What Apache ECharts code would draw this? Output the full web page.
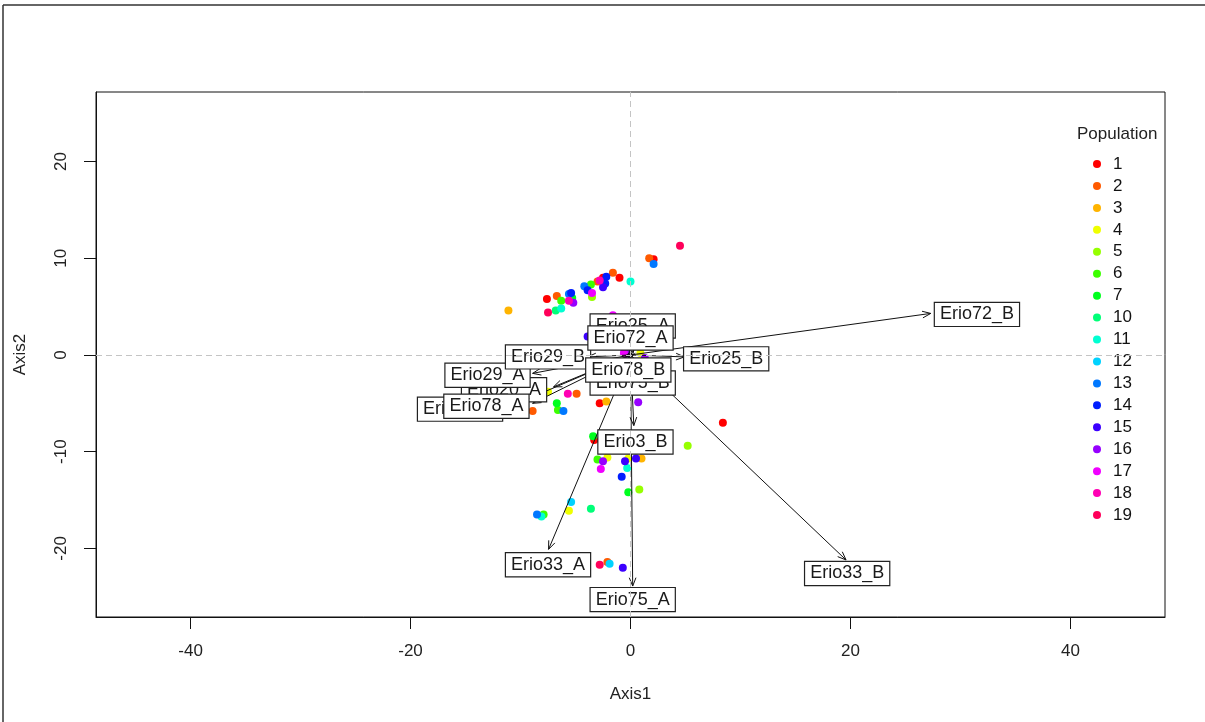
<!DOCTYPE html>
<html>
<head>
<meta charset="utf-8">
<script src="https://cdn.jsdelivr.net/npm/echarts@6/dist/echarts.min.js"></script>
<style>
  html, body { margin: 0; padding: 0; background: #fff; }
  #chart { width: 1205px; height: 722px; }
</style>
</head>
<body>
<div id="chart"></div>
<script>
// Individuals on the first two axes, coloured by population
const populations = ['1','2','3','4','5','6','7','10','11','12','13','14','15','16','17','18','19'];
const popColors = ['#FF0000','#FF5A00','#FFB400','#EFFF00','#96FF00','#3CFF00','#00FF1E','#00FF78',
                   '#00FFD2','#00D2FF','#0078FF','#001EFF','#3C00FF','#9600FF','#F000FF','#FF00B4','#FF005A'];

const pop1  = [[2.1, 9.9], [-1.0, 8.0], [-2.5, 8.0], [-7.6, 5.8], [-2.8, -5.0], [8.4, -7.0], [-3.3, -8.8], [-1.2, -1.0]];
const pop2  = [[1.7, 10.0], [-1.6, 8.5], [-6.7, 6.1], [-4.9, -4.0], [-8.9, -5.8], [-2.1, -21.4], [-3.0, 7.6]];
const pop3  = [[-11.1, 4.6], [-2.2, -4.8], [1.0, -10.7], [-0.8, -3.5]];
const pop4  = [[-7.5, -3.8], [-2.1, -10.6], [-0.2, -10.7], [-5.6, -16.1], [0.9, 0.2]];
const pop5  = [[5.2, -9.4], [0.8, -13.9], [-3.5, 6.0]];
const pop6  = [[-6.6, -5.7], [-3.0, -10.8], [-7.9, -16.5], [-3.6, 7.3], [-6.3, 5.6]];
const pop7  = [[-6.7, -5.0], [-3.4, -8.4], [-0.2, -14.2], [-5.3, 5.9]];
const pop10 = [[-6.8, 4.6], [-3.6, -15.9], [-1.5, -2.5]];
const pop11 = [[0.0, 7.6], [-6.3, 4.8], [-8.1, -16.7], [-0.3, -11.7]];
const pop12 = [[-5.4, -15.2], [-1.9, -21.6], [0.5, -2.0]];
const pop13 = [[2.1, 9.4], [-4.2, 7.1], [-5.6, 6.3], [-6.1, -5.8], [-8.5, -16.5]];
const pop14 = [[-2.2, 8.1], [-2.3, 7.4], [-5.4, 6.4], [-3.9, 6.7], [-0.8, -12.6]];
const pop15 = [[-2.5, 7.0], [-0.5, -11.0], [0.5, -10.7], [-0.7, -22.0], [-3.9, 1.9]];
const pop16 = [[-5.2, 5.4], [0.7, -4.9], [-2.5, -11.0], [1.3, -0.3], [-0.3, 0.1]];
const pop17 = [[-1.6, 4.1], [-2.7, -11.8], [-0.6, 0.2], [-3.5, 6.4]];
const pop18 = [[-2.8, 7.7], [-5.6, 5.6], [-5.7, -4.0]];
const pop19 = [[4.5, 11.3], [-7.5, 4.4], [-2.8, -21.7]];
const popData = [pop1, pop2, pop3, pop4, pop5, pop6, pop7, pop10, pop11, pop12, pop13, pop14, pop15, pop16, pop17, pop18, pop19];

// Variable loadings (arrow tips) and where their labels sit
const varNames = ['Erio3_B','Erio20_A','Erio20_B','Erio25_A','Erio25_B','Erio29_A','Erio29_B','Erio33_A',
                  'Erio33_B','Erio72_A','Erio72_B','Erio75_A','Erio75_B','Erio78_A','Erio78_B'];
const varTips = [[0.3, -7.3], [-7.0, -3.3], [-11.5, -5.6], [0.2, 1.9], [4.9, -0.2], [-8.9, -1.9], [-3.9, -0.2], [-7.45, -20.1],
                 [19.6, -21.2], [0.3, 0.5], [27.3, 4.3], [0.2, -23.9], [0.2, -1.6], [-8.9, -5.0], [-0.2, -0.4]];
const varLabelAt = [[0.45, -9.0], [-11.5, -3.6], [-15.5, -5.6], [0.2, 3.0], [8.7, -0.4], [-13.0, -2.1], [-7.5, -0.2], [-7.5, -21.7],
                    [19.7, -22.6], [0.0, 1.75], [31.5, 4.2], [0.2, -25.3], [0.2, -2.9], [-13.1, -5.3], [-0.2, -1.55]];

const xTicks = [-40, -20, 0, 20, 40];
const yTicks = [-20, -10, 0, 10, 20];

const FONT = '"Liberation Sans", Arial, sans-serif';
const chart = echarts.init(document.getElementById('chart'), null, { renderer: 'canvas' });

const pointSeries = populations.map((p, i) => ({
  name: p,
  type: 'scatter',
  data: popData[i],
  symbol: 'circle',
  symbolSize: 8,
  itemStyle: { color: popColors[i], opacity: 1 },
  z: 2,
  silent: true
}));

const arrowSeries = {
  type: 'custom',
  data: varTips,
  encode: { x: 0, y: 1 },
  z: 3,
  silent: true,
  renderItem: function (params, api) {
    const o = api.coord([0, 0]);
    const t = api.coord([api.value(0), api.value(1)]);
    const ang = Math.atan2(t[1] - o[1], t[0] - o[0]);
    const len = 9, spread = 0.38;
    const h1 = [t[0] - len * Math.cos(ang - spread), t[1] - len * Math.sin(ang - spread)];
    const h2 = [t[0] - len * Math.cos(ang + spread), t[1] - len * Math.sin(ang + spread)];
    return {
      type: 'group',
      children: [
        { type: 'line', shape: { x1: o[0], y1: o[1], x2: t[0], y2: t[1] }, style: { stroke: '#111', lineWidth: 1 } },
        { type: 'polyline', shape: { points: [h1, t, h2] }, style: { stroke: '#111', lineWidth: 1, fill: null } }
      ]
    };
  }
};

const labelSeries = {
  type: 'custom',
  data: varLabelAt,
  encode: { x: 0, y: 1 },
  z: 4,
  silent: true,
  renderItem: function (params, api) {
    const c = api.coord([api.value(0), api.value(1)]);
    return {
      type: 'text',
      x: c[0],
      y: c[1],
      style: {
        text: varNames[params.dataIndex],
        font: '18px ' + FONT,
        fill: '#1a1a1a',
        align: 'center',
        verticalAlign: 'middle',
        backgroundColor: '#fff',
        borderColor: '#222',
        borderWidth: 1.2,
        padding: [3, 5, 2, 5]
      }
    };
  }
};

// Dashed reference lines through the origin
pointSeries[0].markLine = {
  silent: true,
  symbol: 'none',
  label: { show: false },
  lineStyle: { color: '#c4c4c4', type: [6, 4], width: 1 },
  data: [{ xAxis: 0 }, { yAxis: 0 }],
  animation: false
};

chart.setOption({
  animation: false,
  backgroundColor: '#fff',
  textStyle: { fontFamily: FONT },
  title: {
    text: 'Population',
    left: 1077,
    top: 126,
    padding: 0,
    textStyle: { fontFamily: FONT, fontSize: 17, fontWeight: 'normal', color: '#222' }
  },
  legend: {
    orient: 'vertical',
    left: 1093,
    top: 155.5,
    padding: 0,
    icon: 'circle',
    itemWidth: 22,
    itemHeight: 8,
    itemGap: 4.94,
    selectedMode: false,
    data: populations,
    textStyle: { fontFamily: FONT, fontSize: 17, lineHeight: 17, color: '#111' }
  },
  graphic: [
    { type: 'line', shape: { x1: 3, y1: 5, x2: 1205, y2: 5 }, style: { stroke: '#333', lineWidth: 1.5 } },
    { type: 'line', shape: { x1: 3, y1: 5, x2: 3, y2: 722 }, style: { stroke: '#333', lineWidth: 1.5 } }
  ],
  grid: {
    left: 96, right: 40, top: 92, bottom: 105,
    show: true, borderColor: '#111', borderWidth: 1, backgroundColor: 'transparent'
  },
  xAxis: {
    type: 'value',
    min: -48.6, max: 48.6,
    name: 'Axis1',
    nameLocation: 'middle',
    nameGap: 69,
    nameTextStyle: { fontFamily: FONT, fontSize: 17, color: '#222' },
    axisLine: { show: true, onZero: false, lineStyle: { color: '#111' } },
    axisTick: { show: true, length: 12, customValues: xTicks, lineStyle: { color: '#111' } },
    axisLabel: { customValues: xTicks, margin: 26, fontFamily: FONT, fontSize: 17, color: '#222' },
    splitLine: { show: false }
  },
  yAxis: {
    type: 'value',
    min: -27.1, max: 27.2,
    name: 'Axis2',
    nameLocation: 'middle',
    nameGap: 67,
    nameTextStyle: { fontFamily: FONT, fontSize: 17, color: '#222' },
    axisLine: { show: true, onZero: false, lineStyle: { color: '#111' } },
    axisTick: { show: true, length: 12, customValues: yTicks, lineStyle: { color: '#111' } },
    axisLabel: { customValues: yTicks, rotate: 90, margin: 26, fontFamily: FONT, fontSize: 17, color: '#222' },
    splitLine: { show: false }
  },
  series: pointSeries.concat([arrowSeries, labelSeries])
});
</script>
</body>
</html>
